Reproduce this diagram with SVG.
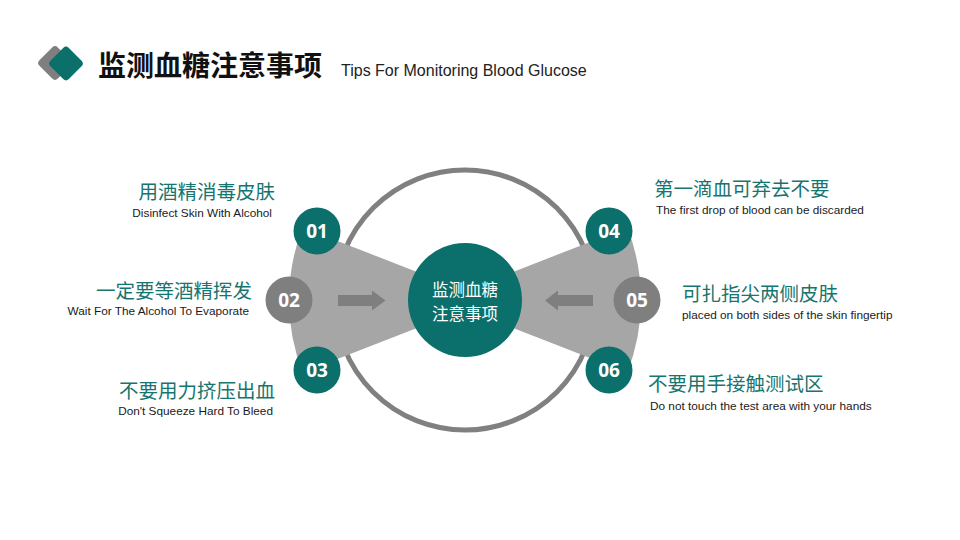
<svg xmlns="http://www.w3.org/2000/svg" width="960" height="540" viewBox="0 0 960 540">
<style>
.teal{fill:#0b706b}
.gray{fill:#7f7f7f}
.num{font-family:"Open Sans","DejaVu Sans",sans-serif;font-weight:700;font-size:19px;fill:#fff;text-anchor:middle}
.cn{font-family:"Noto Sans CJK SC",sans-serif;font-size:19.5px;fill:#16756f}
.en{font-family:"Liberation Sans",Arial,sans-serif;font-size:11.8px;fill:#1a1a1a}
.l{text-anchor:end}
</style>
<rect width="960" height="540" fill="#fff"/>
<g id="title">
<rect x="42" y="50" width="26" height="26" rx="4" transform="rotate(45 55 63)" class="gray"/>
<rect x="53" y="50.5" width="26" height="26" rx="4" transform="rotate(45 66 63.5)" class="teal"/>
<text x="98" y="76" font-family="Noto Sans CJK SC,sans-serif" font-size="28" font-weight="700" fill="#111">监测血糖注意事项</text>
<text x="341" y="76" font-family="Liberation Sans,Arial,sans-serif" font-size="16" fill="#222">Tips For Monitoring Blood Glucose</text>
</g>
<g id="ring">
<circle cx="465" cy="300" r="130" fill="none" stroke="#808080" stroke-width="5"/>
</g>
<g id="fans">
<path d="M489 300 L302.7 227.4 A200 200 0 0 0 302.7 372.6 Z" fill="#a6a6a6"/>
<path d="M441 300 L627.3 227.4 A200 200 0 0 1 627.3 372.6 Z" fill="#a6a6a6"/>
</g>
<g id="connectors">
<path d="M338 295 H372 V290.5 L385.5 300.5 L372 310.5 V306 H338 Z" class="gray"/>
<path d="M593 295 H558 V290.5 L545 300.5 L558 310.5 V306 H593 Z" class="gray"/>
</g>
<g id="center">
<circle cx="465" cy="300" r="57" class="teal"/>
<text x="465" y="296" font-family="Noto Sans CJK SC,sans-serif" font-size="16.5" fill="#fff" text-anchor="middle">监测血糖</text>
<text x="465" y="320" font-family="Noto Sans CJK SC,sans-serif" font-size="16.5" fill="#fff" text-anchor="middle">注意事项</text>
</g>
<g id="n01"><circle cx="317" cy="231" r="23.5" class="teal"/><text x="317" y="238" class="num">01</text>
<text x="275" y="199" class="cn l">用酒精消毒皮肤</text><text x="272" y="217" class="en l">Disinfect Skin With Alcohol</text></g>
<g id="n02"><circle cx="289" cy="300" r="23.5" class="gray"/><text x="289" y="307" class="num">02</text>
<text x="252" y="298" class="cn l">一定要等酒精挥发</text><text x="249" y="315" class="en l">Wait For The Alcohol To Evaporate</text></g>
<g id="n03"><circle cx="317" cy="370" r="23.5" class="teal"/><text x="317" y="377" class="num">03</text>
<text x="275" y="398" class="cn l">不要用力挤压出血</text><text x="273" y="415" class="en l">Don't Squeeze Hard To Bleed</text></g>
<g id="n04"><circle cx="609" cy="231" r="23.5" class="teal"/><text x="609" y="238" class="num">04</text>
<text x="654" y="196" class="cn">第一滴血可弃去不要</text><text x="656" y="214" class="en">The first drop of blood can be discarded</text></g>
<g id="n05"><circle cx="637" cy="300" r="23.5" class="gray"/><text x="637" y="307" class="num">05</text>
<text x="682" y="301" class="cn">可扎指尖两侧皮肤</text><text x="682" y="319" class="en">placed on both sides of the skin fingertip</text></g>
<g id="n06"><circle cx="609" cy="370" r="23.5" class="teal"/><text x="609" y="377" class="num">06</text>
<text x="648" y="391" class="cn">不要用手接触测试区</text><text x="650" y="410" class="en">Do not touch the test area with your hands</text></g>
</svg>
